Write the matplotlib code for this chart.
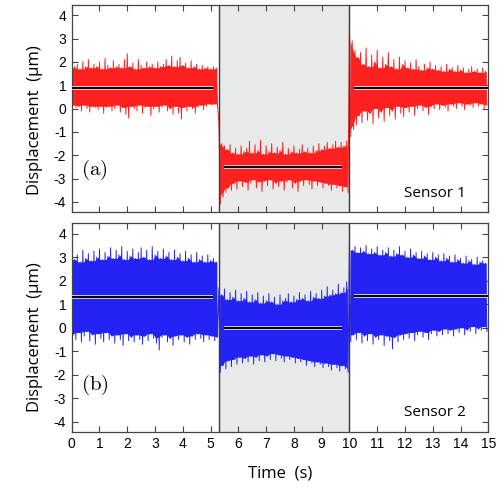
import numpy as np
import pandas as pd
import matplotlib
matplotlib.use('Agg')
import matplotlib.pyplot as plt
import matplotlib.patheffects as pe

plt.rcParams['font.family'] = ['Liberation Sans', 'DejaVu Sans']
plt.rcParams['axes.unicode_minus'] = False
plt.rcParams['mathtext.fontset'] = 'cm'

# excitation window (s)
on_start, on_end = 5.3, 10.0
# first cycle index of each interval (off / on / off)
seg_index = [0, 53, 100, 150]

# peak displacement per 0.1 s cycle (um): maxima at t = k*0.1, minima at t = k*0.1 + 0.05
# sensor 1
peak_hi_a = [
    # 0 - 5.2 s
    1.75, 1.8, 1.9, 1.7, 2.0, 1.8, 2.1, 1.75, 1.9, 1.8,
    2.0, 1.7, 2.15, 1.85, 1.75, 2.05, 1.8, 1.9, 1.75, 2.1,
    2.35, 1.8, 1.95, 1.7, 2.1, 1.85, 1.75, 2.0, 1.8, 1.9,
    1.75, 2.0, 1.8, 1.9, 2.1, 1.85, 2.25, 1.8, 2.05, 2.2,
    1.85, 1.95, 1.75, 2.05, 1.8, 1.9, 1.7, 1.85, 1.75, 1.8,
    1.7, 1.8, 1.75,
    # 5.3 - 9.9 s
    -0.6, -1.5, -1.6, -1.75, -1.55, -1.9, -1.7, -1.95, -1.6, -1.85,
    -1.7, -1.4, -1.9, -1.55, -1.8, -1.35, -1.95, -1.6, -1.85, -1.5,
    -1.9, -1.65, -1.8, -1.45, -1.95, -1.7, -1.85, -1.6, -1.9, -1.75,
    -1.55, -1.85, -1.7, -1.9, -1.6, -1.8, -1.5, -1.75, -1.6, -1.45,
    -1.7, -1.55, -1.4, -1.65, -1.45, -1.6, -1.4,
    # 10 - 14.9 s
    3.7, 2.9, 2.5, 2.2, 2.4, 1.9, 2.6, 1.8, 2.3, 2.0,
    2.5, 1.75, 2.2, 1.9, 2.4, 1.8, 2.1, 1.7, 2.2, 1.9,
    2.05, 1.75, 1.95, 1.7, 2.1, 1.8, 1.65, 1.9, 1.75, 2.0,
    1.7, 1.85, 1.65, 1.8, 1.6, 1.9, 1.7, 1.75, 1.6, 1.85,
    1.65, 1.75, 1.55, 1.7, 1.8, 1.6, 1.7, 1.55, 1.75, 1.6,
]
peak_lo_a = [
    0.15, 0.05, 0.1, -0.1, 0.15, 0.0, -0.15, 0.1, 0.05, -0.05,
    0.1, -0.2, 0.05, 0.1, -0.1, 0.0, 0.15, -0.15, 0.05, -0.25,
    -0.4, 0.1, 0.0, -0.1, 0.15, -0.2, 0.05, 0.1, -0.3, 0.0,
    0.1, -0.15, 0.05, 0.15, -0.1, 0.0, -0.25, 0.1, -0.2, -0.45,
    0.05, -0.1, 0.1, 0.0, -0.2, 0.05, 0.15, -0.05, 0.1, 0.2,
    0.15, 0.2, 0.15,
    -4.1, -3.8, -3.6, -3.4, -3.5, -3.2, -3.45, -3.1, -3.35, -3.15,
    -3.5, -3.2, -3.05, -3.4, -3.15, -3.55, -3.1, -3.3, -3.05, -3.45,
    -3.2, -3.35, -3.1, -3.5, -3.15, -3.05, -3.4, -3.2, -3.55, -3.1,
    -3.3, -3.05, -3.25, -3.45, -3.1, -3.3, -3.15, -3.4, -3.2, -3.3,
    -3.5, -3.25, -3.4, -3.3, -3.55, -3.35, -3.6,
    -1.2, -0.9, -0.7, -0.3, -0.6, -0.1, -0.5, -0.2, -0.65, 0.0,
    -0.4, -0.15, -0.55, 0.05, -0.3, -0.1, -0.45, 0.1, -0.2, -0.35,
    0.05, -0.15, 0.1, -0.3, 0.0, 0.15, -0.1, 0.05, -0.25, 0.1,
    0.0, 0.2, -0.05, 0.15, 0.05, -0.1, 0.2, 0.1, 0.0, 0.25,
    0.1, -0.05, 0.2, 0.15, 0.05, 0.25, 0.1, 0.2, 0.0, 0.15,
]

# sensor 2
peak_hi_b = [
    3.2, 2.9, 3.1, 2.8, 3.3, 2.95, 3.15, 2.85, 3.25, 3.0,
    3.35, 2.9, 3.2, 3.05, 3.4, 2.95, 3.3, 3.1, 3.45, 2.9,
    3.25, 3.05, 3.35, 2.95, 3.2, 3.4, 3.0, 3.3, 2.9, 3.45,
    3.1, 3.25, 2.95, 3.35, 3.05, 3.2, 2.9, 3.3, 3.0, 3.15,
    2.85, 3.25, 2.95, 3.1, 2.8, 3.2, 2.9, 3.05, 2.8, 3.1,
    2.85, 2.95, 2.8,
    1.7, 1.4, 1.65, 1.2, 1.5, 1.3, 1.6, 1.15, 1.45, 1.25,
    1.55, 1.1, 1.4, 1.2, 1.5, 1.05, 1.35, 1.15, 1.45, 1.1,
    1.3, 1.0, 1.4, 1.15, 1.25, 1.45, 1.1, 1.35, 1.2, 1.5,
    1.25, 1.4, 1.15, 1.55, 1.3, 1.45, 1.25, 1.6, 1.35, 1.75,
    1.4, 1.6, 1.45, 1.85, 1.5, 1.7, 1.95,
    3.65, 3.3, 3.45, 3.2, 3.4, 3.25, 3.5, 3.15, 3.35, 3.2,
    3.45, 3.1, 3.3, 3.2, 3.4, 3.05, 3.3, 3.15, 3.45, 3.1,
    3.25, 3.0, 3.35, 3.1, 3.2, 2.95, 3.25, 3.05, 3.15, 2.9,
    3.2, 3.0, 3.1, 2.85, 3.15, 2.95, 3.05, 2.8, 3.1, 2.9,
    2.95, 2.75, 3.05, 2.85, 2.9, 2.7, 3.0, 2.8, 2.85, 2.75,
]
peak_lo_b = [
    -0.3, -0.5, -0.2, -0.6, -0.35, -0.15, -0.55, -0.3, -0.7, -0.25,
    -0.45, -0.6, -0.2, -0.5, -0.35, -0.65, -0.3, -0.5, -0.75, -0.25,
    -0.55, -0.4, -0.6, -0.3, -0.5, -0.7, -0.35, -0.55, -0.25, -0.45,
    -0.65, -0.95, -0.4, -0.3, -0.6, -0.45, -0.75, -0.35, -0.5, -0.3,
    -0.6, -0.4, -0.7, -0.35, -0.5, -0.25, -0.45, -0.6, -0.3, -0.5,
    -0.35, -0.55, -0.4,
    -1.9, -1.6, -1.75, -1.4, -1.65, -1.35, -1.55, -1.25, -1.5, -1.3,
    -1.45, -1.2, -1.55, -1.25, -1.4, -1.15, -1.45, -1.2, -1.35, -1.1,
    -1.4, -1.15, -1.3, -1.45, -1.2, -1.35, -1.25, -1.5, -1.3, -1.45,
    -1.35, -1.6, -1.4, -1.5, -1.65, -1.45, -1.55, -1.7, -1.5, -1.65,
    -1.8, -1.55, -1.7, -1.85, -1.6, -1.75, -1.9,
    -0.6, -0.3, -0.5, -0.2, -0.65, -0.35, -0.55, -0.25, -0.7, -0.4,
    -0.5, -0.3, -0.75, -0.35, -0.55, -0.9, -0.4, -0.6, -0.3, -0.5,
    -0.25, -0.45, -0.2, -0.55, -0.3, -0.15, -0.4, -0.2, -0.5, -0.25,
    -0.1, -0.35, -0.15, -0.3, -0.05, -0.25, -0.1, -0.35, -0.05, -0.2,
    0.0, -0.3, -0.1, -0.15, 0.05, -0.25, -0.05, -0.1, 0.05, -0.15,
]

# mean displacement over each interval
mean_spans = [(0.0, 5.08), (5.5, 9.75), (10.15, 15.0)]
mean_a = [0.9, -2.5, 0.87]
mean_b = [1.32, -0.02, 1.35]

label_font = ['Open Sans', 'DejaVu Sans']


def draw_panel(ax, hi, lo, means, color, tag, sensor, tag_y, ylab_y):
    hi = np.asarray(hi)
    lo = np.asarray(lo)
    t_hi = np.arange(len(hi)) * 0.1
    t = np.column_stack([t_hi, t_hi + 0.05]).ravel()
    y = np.column_stack([hi, lo]).ravel()

    ax.axvspan(on_start, on_end, color='#e8eaea', lw=0, zorder=0)

    # dense band: range that neighbouring cycles all pass through
    for i0, i1 in zip(seg_index[:-1], seg_index[1:]):
        band_hi = pd.Series(hi[i0:i1]).rolling(3, center=True, min_periods=1).min()
        band_lo = pd.Series(lo[i0:i1]).rolling(3, center=True, min_periods=1).max()
        ax.fill_between(t_hi[i0:i1] + 0.025, band_lo, band_hi, color=color,
                        lw=0, zorder=2)
    ax.plot(t, y, color=color, lw=0.7, zorder=2)

    for x in (on_start, on_end):
        ax.axvline(x, color='#3a3a3a', lw=1.0, zorder=3)
    for (t0, t1), m in zip(mean_spans, means):
        ax.plot([t0, t1], [m, m], color='black', lw=1.4, zorder=4,
                solid_capstyle='butt',
                path_effects=[pe.Stroke(linewidth=2.7, foreground='#dcdcdc'), pe.Normal()])

    ax.set_xlim(0, 15)
    ax.set_ylim(-4.42, 4.44)
    ax.set_xticks(range(0, 16))
    ax.set_yticks(range(-4, 5))
    ax.tick_params(direction='in', top=True, right=True, length=4, width=0.8,
                   color='#444444', labelsize=10, pad=4)
    for s in ax.spines.values():
        s.set_color('#444444')
        s.set_linewidth(0.9)

    ax.set_ylabel('Displacement  (μm)', family=label_font, fontsize=12)
    ax.yaxis.set_label_coords(-0.07, ylab_y)
    ax.text(0.022, tag_y, tag, transform=ax.transAxes, fontsize=15,
            ha='left', va='center')
    ax.text(0.946, 0.09, sensor, transform=ax.transAxes, family=label_font,
            fontsize=11, ha='right', va='center')


fig = plt.figure(figsize=(4.97, 4.87), dpi=100)
ax_a = fig.add_axes([0.1443, 0.5653, 0.8382, 0.4244])
ax_b = fig.add_axes([0.1443, 0.1135, 0.8382, 0.4279])

draw_panel(ax_a, peak_hi_a, peak_lo_a, mean_a, '#ff2020', r'$\mathrm{(a)}$',
           'Sensor 1', 0.20, 0.444)
draw_panel(ax_b, peak_hi_b, peak_lo_b, mean_b, '#2323f5', r'$\mathrm{(b)}$',
           'Sensor 2', 0.224, 0.454)

ax_a.tick_params(labelbottom=False)
ax_b.set_xlabel('Time  (s)', family=label_font, fontsize=12, labelpad=10)

fig.savefig('out.png', dpi=100)
